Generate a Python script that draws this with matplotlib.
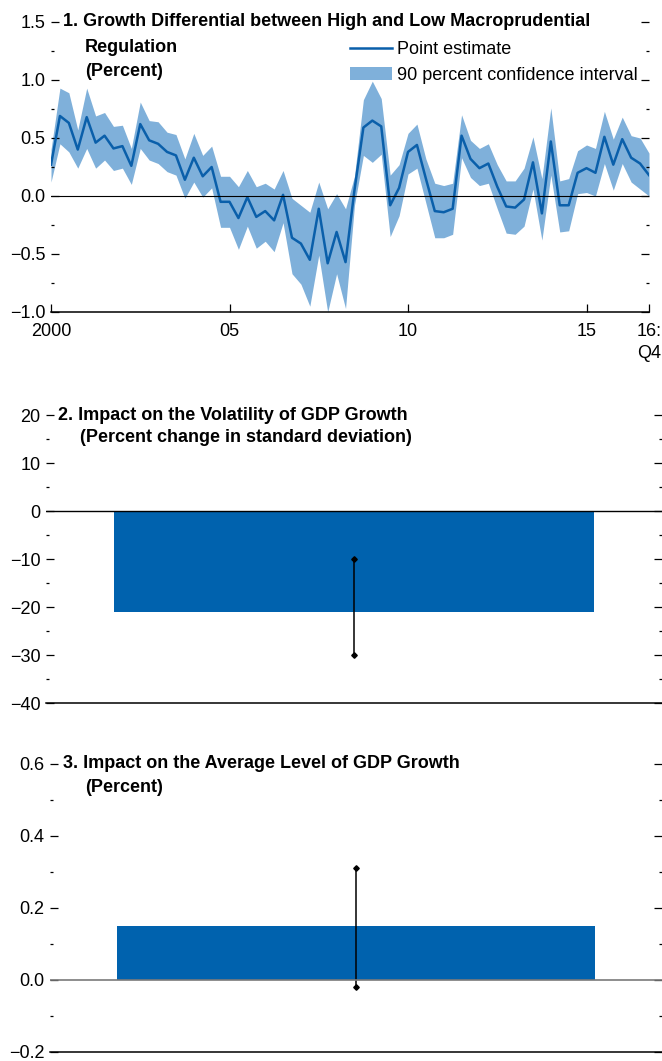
import matplotlib
matplotlib.use("Agg")
import matplotlib.pyplot as plt
import numpy as np
from matplotlib.ticker import MultipleLocator

plt.rcParams["font.family"] = ["Liberation Sans", "DejaVu Sans"]

# panel 1: quarterly growth differential, 2000Q1 - 2016Q4
first_year = 2000
point_est = [0.27, 0.69, 0.63, 0.40, 0.68, 0.46, 0.52, 0.41, 0.43, 0.26,
             0.62, 0.48, 0.45, 0.38, 0.35, 0.14, 0.33, 0.17, 0.25, -0.05,
             -0.05, -0.19, -0.01, -0.18, -0.13, -0.21, 0.01, -0.36, -0.41, -0.55,
             -0.11, -0.58, -0.31, -0.57, 0.05, 0.59, 0.65, 0.60, -0.08, 0.07,
             0.38, 0.44, 0.15, -0.13, -0.14, -0.11, 0.52, 0.32, 0.24, 0.28,
             0.08, -0.09, -0.10, -0.03, 0.29, -0.15, 0.47, -0.08, -0.08, 0.20,
             0.24, 0.20, 0.51, 0.27, 0.49, 0.33, 0.28, 0.18]
ci_upper = [0.40, 0.93, 0.89, 0.57, 0.93, 0.69, 0.72, 0.60, 0.61, 0.41,
            0.81, 0.65, 0.64, 0.55, 0.53, 0.32, 0.54, 0.35, 0.43, 0.17,
            0.17, 0.08, 0.22, 0.08, 0.11, 0.06, 0.22, -0.02, -0.08, -0.14,
            0.12, -0.11, 0.02, -0.11, 0.17, 0.83, 0.99, 0.84, 0.18, 0.27,
            0.54, 0.62, 0.32, 0.11, 0.09, 0.11, 0.70, 0.48, 0.41, 0.45,
            0.27, 0.13, 0.13, 0.24, 0.51, 0.15, 0.76, 0.13, 0.15, 0.39,
            0.44, 0.41, 0.73, 0.49, 0.68, 0.52, 0.50, 0.37]
ci_lower = [0.12, 0.45, 0.38, 0.24, 0.41, 0.24, 0.31, 0.22, 0.24, 0.10,
            0.41, 0.31, 0.28, 0.21, 0.18, -0.02, 0.12, -0.01, 0.07, -0.27,
            -0.27, -0.46, -0.26, -0.45, -0.39, -0.48, -0.23, -0.67, -0.76, -0.95,
            -0.51, -1.00, -0.67, -0.97, -0.08, 0.35, 0.29, 0.36, -0.35, -0.17,
            0.19, 0.24, -0.06, -0.36, -0.36, -0.33, 0.33, 0.16, 0.09, 0.11,
            -0.11, -0.32, -0.33, -0.26, 0.06, -0.38, 0.18, -0.31, -0.30, 0.02,
            0.03, 0.00, 0.28, 0.05, 0.28, 0.12, 0.06, 0.00]
xtick_pos = [2000, 2005, 2010, 2015, 2016.75]
xtick_labels = ["2000", "05", "10", "15", "16:\nQ4"]

# panel 2: volatility impact (percent change in std dev) with 90% CI
vol_est = -21.0
vol_ci = [-30.0, -10.0]

# panel 3: impact on average GDP growth (percent) with 90% CI
lvl_est = 0.15
lvl_ci = [-0.02, 0.31]

line_color = "#0A5FAA"
band_color = "#7FB0DA"
bar_color = "#0062AE"
FS = 13

W, H = 662, 1061
fig = plt.figure(figsize=(W / 100, H / 100), dpi=100)


def px_axes(left, top, right, bottom):
    return fig.add_axes([left / W, 1 - bottom / H, (right - left) / W, (bottom - top) / H])


def style(ax, major, minor):
    for s in ["left", "right", "top"]:
        ax.spines[s].set_visible(False)
    ax.spines["bottom"].set_linewidth(1.1)
    ax.yaxis.set_major_locator(MultipleLocator(major))
    ax.yaxis.set_minor_locator(MultipleLocator(minor))
    ax.tick_params(axis="y", which="both", direction="in", left=True, right=True,
                   labelleft=True, width=0.9, pad=4, labelsize=FS)
    ax.tick_params(axis="y", which="major", length=6)
    ax.tick_params(axis="y", which="minor", length=2.5)


def ftext(x, y, s):
    fig.text(x / W, 1 - y / H, s, fontsize=FS, fontweight="bold", va="center", ha="left")


# ---- panel 1
ax1 = px_axes(51, 22, 649, 312)
t = first_year + np.arange(len(point_est)) / 4
ax1.fill_between(t, ci_lower, ci_upper, color=band_color, lw=0,
                 label="90 percent confidence interval")
ax1.plot(t, point_est, color=line_color, lw=1.8, label="Point estimate")
ax1.axhline(0, color="black", lw=0.8)
ax1.set_xlim(2000, 2016.75)
ax1.set_ylim(-1.0, 1.5)
style(ax1, 0.5, 0.25)
ax1.set_xticks(xtick_pos)
ax1.set_xticklabels(xtick_labels, linespacing=1.35)
ax1.tick_params(axis="x", direction="in", length=6, width=0.9, pad=8, labelsize=FS)
ax1.xaxis.set_minor_locator(plt.NullLocator())
h, l = ax1.get_legend_handles_labels()
ax1.legend(h[::-1], l[::-1], loc="upper left", bbox_to_anchor=((350 - 51) / 598, 0.935),
           frameon=False, fontsize=FS, handlelength=2.3, handletextpad=0.3,
           borderpad=0, borderaxespad=0, labelspacing=0.5)
ftext(63, 22, "1. Growth Differential between High and Low Macroprudential")
ftext(85, 47, "Regulation")
ftext(85, 72, "(Percent)")

# ---- panel 2
ax2 = px_axes(46, 415, 662, 703)
ax2.bar(0, vol_est, width=0.78, color=bar_color)
ax2.plot([0, 0], vol_ci, color="black", lw=1.1, marker="D", ms=2.8)
ax2.axhline(0, color="black", lw=1.0)
ax2.set_xlim(-0.5, 0.5)
ax2.set_ylim(-40, 20)
style(ax2, 10, 5)
ax2.set_xticks([])
ftext(58, 415, "2. Impact on the Volatility of GDP Growth")
ftext(80, 438, "(Percent change in standard deviation)")

# ---- panel 3
ax3 = px_axes(50, 764, 662, 1052)
ax3.bar(0, lvl_est, width=0.78, color=bar_color)
ax3.plot([0, 0], lvl_ci, color="black", lw=1.1, marker="D", ms=2.8)
ax3.axhline(0, color="#7a7a7a", lw=1.2)
ax3.set_xlim(-0.5, 0.5)
ax3.set_ylim(-0.2, 0.6)
style(ax3, 0.2, 0.1)
ax3.set_xticks([])
ftext(63, 764, "3. Impact on the Average Level of GDP Growth")
ftext(85, 788, "(Percent)")

fig.savefig("out.png", dpi=100)
